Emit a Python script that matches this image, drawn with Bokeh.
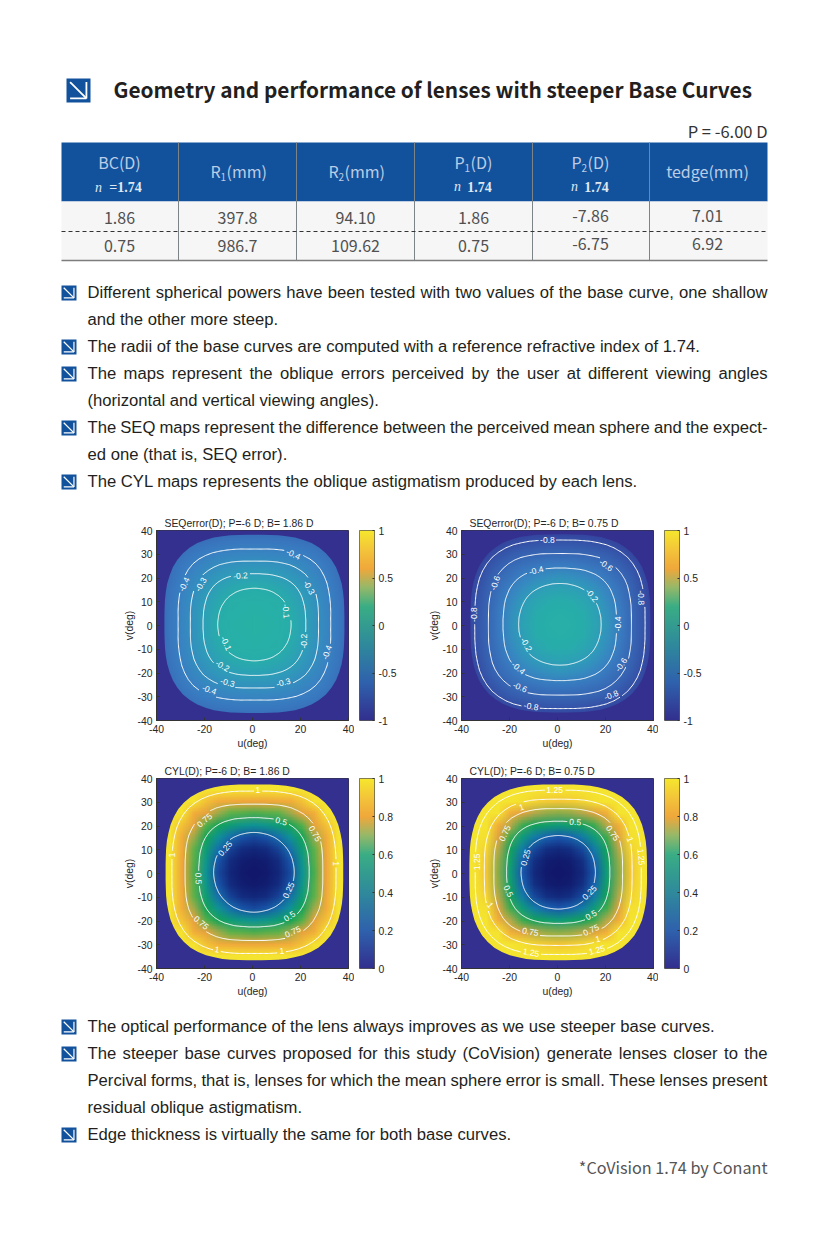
import base64
import struct
import zlib
import numpy as np
from bokeh.embed import file_html
from bokeh.resources import INLINE
from bokeh.plotting import figure
from bokeh.layouts import column, row
from bokeh.models import Range1d, FixedTicker, LinearColorMapper, CustomJSTickFormatter
from bokeh.core.properties import value

# ---------- table ----------
TITLE = "Geometry and performance of lenses with steeper Base Curves"
P_NOTE = "P = -6.00 D"
ROW_A = ["1.86", "397.8", "94.10", "1.86", "-7.86", "7.01"]
ROW_B = ["0.75", "986.7", "109.62", "0.75", "-6.75", "6.92"]
FOOT_NOTE = "*CoVision 1.74 by Conant"

# ---------- body text: (line, justified, bullet) ----------
TOP_LINES = [
    ("Different spherical powers have been tested with two values of the base curve, one shallow", True, True),
    ("and the other more steep.", False, False),
    ("The radii of the base curves are computed with a reference refractive index of 1.74.", False, True),
    ("The maps represent the oblique errors perceived by the user at different viewing angles", True, True),
    ("(horizontal and vertical viewing angles).", False, False),
    ("The SEQ maps represent the difference between the perceived mean sphere and the expect-", True, True),
    ("ed one (that is, SEQ error).", False, False),
    ("The CYL maps represents the oblique astigmatism produced by each lens.", False, True),
]
BOTTOM_LINES = [
    ("The optical performance of the lens always improves as we use steeper base curves.", False, True),
    ("The steeper base curves proposed for this study (CoVision) generate lenses closer to the", True, True),
    ("Percival forms, that is, lenses for which the mean sphere error is small. These lenses present", True, False),
    ("residual oblique astigmatism.", False, False),
    ("Edge thickness is virtually the same for both base curves.", False, True),
]

# ---------- maps: values on a 5 deg grid, first quadrant (rows v=0..40, cols u=0..40) ----------
SEQ_186 = [
    [-.03, -.04, -.06, -.10, -.18, -.27, -.365, -.47, -.60],
    [-.04, -.05, -.07, -.11, -.18, -.27, -.37, -.47, -.60],
    [-.06, -.07, -.08, -.135, -.205, -.285, -.375, -.48, -.60],
    [-.10, -.11, -.135, -.175, -.237, -.31, -.39, -.50, -.61],
    [-.18, -.18, -.205, -.237, -.29, -.347, -.42, -.52, -.64],
    [-.27, -.27, -.285, -.31, -.347, -.40, -.46, -.55, -.67],
    [-.365, -.37, -.375, -.39, -.42, -.46, -.52, -.60, -.72],
    [-.47, -.47, -.48, -.50, -.52, -.55, -.60, -.65, -.76],
    [-.60, -.60, -.60, -.61, -.64, -.67, -.72, -.76, -.80],
]
SEQ_075 = [
    [-.07, -.08, -.11, -.17, -.28, -.44, -.61, -.78, -.93],
    [-.08, -.09, -.12, -.19, -.30, -.45, -.61, -.78, -.93],
    [-.11, -.12, -.16, -.22, -.34, -.48, -.63, -.80, -.94],
    [-.17, -.19, -.22, -.30, -.39, -.52, -.66, -.82, -.95],
    [-.28, -.30, -.34, -.39, -.49, -.58, -.71, -.85, -.96],
    [-.44, -.45, -.48, -.52, -.58, -.67, -.79, -.90, -.98],
    [-.61, -.61, -.63, -.66, -.71, -.79, -.87, -.95, -1.0],
    [-.78, -.78, -.80, -.82, -.85, -.90, -.95, -1.0, -1.0],
    [-.93, -.93, -.94, -.95, -.96, -.98, -1.0, -1.0, -1.0],
]
CYL_186 = [
    [.00, .02, .09, .19, .38, .59, .81, 1.05, 1.30],
    [.02, .04, .11, .22, .40, .61, .82, 1.06, 1.30],
    [.09, .11, .17, .29, .44, .62, .84, 1.07, 1.32],
    [.19, .22, .29, .38, .50, .68, .87, 1.09, 1.34],
    [.38, .40, .44, .50, .61, .77, .94, 1.13, 1.38],
    [.59, .61, .62, .68, .77, .88, 1.04, 1.22, 1.48],
    [.81, .82, .84, .87, .94, 1.04, 1.20, 1.36, 1.60],
    [1.05, 1.06, 1.07, 1.09, 1.13, 1.22, 1.36, 1.50, 1.72],
    [1.30, 1.30, 1.32, 1.34, 1.38, 1.48, 1.60, 1.72, 1.90],
]
CYL_075 = [
    [.00, .02, .10, .23, .43, .66, .95, 1.28, 1.65],
    [.02, .04, .12, .26, .46, .67, .96, 1.29, 1.65],
    [.10, .12, .19, .32, .49, .70, .98, 1.29, 1.66],
    [.23, .26, .32, .43, .57, .76, 1.03, 1.31, 1.68],
    [.43, .46, .49, .57, .70, .89, 1.12, 1.40, 1.70],
    [.66, .67, .70, .76, .89, 1.06, 1.27, 1.55, 1.85],
    [.95, .96, .98, 1.03, 1.12, 1.27, 1.47, 1.72, 2.00],
    [1.28, 1.29, 1.29, 1.31, 1.40, 1.55, 1.72, 1.90, 2.15],
    [1.65, 1.65, 1.66, 1.68, 1.70, 1.85, 2.00, 2.15, 2.30],
]

# ---------- contours: radius (deg) at polar angles 0,5,...,45, mirrored into the other octants ----------
SEQ_186_LINES = [
    [15.3, 15.3, 15.3, 15.4, 15.5, 15.6, 15.7, 15.7, 15.8, 15.8],
    [21.4, 21.5, 21.6, 21.9, 22.2, 22.5, 22.9, 23.2, 23.4, 23.5],
    [26.7, 26.8, 27.1, 27.5, 28.0, 28.5, 29.1, 29.5, 29.8, 30.0],
    [31.8, 31.9, 32.3, 32.8, 33.4, 34.1, 34.9, 35.5, 36.0, 36.2],
]
SEQ_186_EDGE = [37.5, 37.65, 38.0, 38.6, 39.3, 40.1, 40.8, 41.5, 41.9, 42.1]
SEQ_075_LINES = [
    [17.2, 17.2, 17.3, 17.3, 17.4, 17.5, 17.6, 17.7, 17.8, 17.8],
    [23.7, 23.8, 23.9, 24.2, 24.6, 25.0, 25.3, 25.7, 25.9, 26.0],
    [29.8, 29.9, 30.2, 30.7, 31.2, 31.8, 32.5, 33.0, 33.3, 33.4],
    [35.5, 35.6, 36.0, 36.5, 37.2, 37.9, 38.7, 39.3, 39.7, 39.9],
]
SEQ_075_EDGE = [37.5, 37.65, 38.0, 38.6, 39.3, 40.1, 40.8, 41.5, 41.9, 42.1]
CYL_186_LINES = [
    [16.8, 16.8, 16.8, 16.8, 16.9, 16.9, 17.0, 17.0, 17.0, 17.0],
    [23.0, 23.1, 23.2, 23.5, 23.9, 24.2, 24.6, 24.9, 25.1, 25.2],
    [28.7, 28.8, 29.1, 29.5, 30.1, 30.7, 31.3, 31.7, 32.1, 32.2],
    [34.2, 34.3, 34.7, 35.2, 35.8, 36.5, 37.2, 37.8, 38.2, 38.4],
]
CYL_186_EDGE = [37.0, 37.15, 37.5, 38.1, 38.8, 39.5, 40.3, 40.9, 41.4, 41.5]
CYL_075_LINES = [
    [15.5, 15.5, 15.5, 15.6, 15.7, 15.8, 15.9, 15.9, 16.0, 16.0],
    [21.5, 21.6, 21.7, 22.0, 22.3, 22.6, 23.0, 23.3, 23.5, 23.6],
    [26.8, 26.9, 27.2, 27.6, 28.1, 28.6, 29.2, 29.6, 30.0, 30.1],
    [30.8, 30.9, 31.2, 31.7, 32.3, 32.9, 33.5, 34.1, 34.4, 34.6],
    [34.6, 34.7, 35.1, 35.6, 36.3, 37.0, 37.7, 38.3, 38.7, 38.8],
]
CYL_075_EDGE = [37.0, 37.15, 37.5, 38.1, 38.8, 39.5, 40.3, 40.9, 41.4, 41.5]

# ---------- contour labels: (text, u, v, rotation deg) ----------
SEQ_186_LABELS = [("-0.4", 17, 30, -25), ("-0.4", -28.5, 17.3, 65), ("-0.3", -21.5, 17.3, 60), ("-0.2", -5, 21, 5),
                  ("-0.3", 23.6, 16, -60), ("-0.1", 14, 6, -85), ("-0.2", 21.5, -6.6, 90), ("-0.4", 31, -11.3, 70),
                  ("-0.1", -11, -7.5, -65), ("-0.2", -12.5, -17, -30), ("-0.3", -10.4, -24, -15),
                  ("-0.3", 12.8, -24, 15), ("-0.4", -18, -27, -20)]
SEQ_075_LABELS = [("-0.8", -4.2, 36.2, 0), ("-0.6", 20.3, 25.4, -35), ("-0.4", -8.9, 23.2, 15), ("-0.2", 14.3, 12.7, -50),
                  ("-0.6", -26, 17.9, 70), ("-0.8", 34.9, 11.7, -88), ("-0.8", -34.6, 4.6, 90), ("-0.4", 25.4, 0.7, 90),
                  ("-0.2", -13, -8, -60), ("-0.6", 26.5, -16.5, 55), ("-0.4", -16.3, -17.9, -40),
                  ("-0.6", -15.6, -26, -22), ("-0.8", 22.4, -29.3, 22), ("-0.8", -11, -34, -10)]
CYL_186_LABELS = [("1", 2.2, 35, 0), ("0.75", -20, 22.4, 40), ("0.5", 12, 22, -15), ("0.75", 26, 16.8, -60),
                  ("0.25", -11.4, 10.5, 50), ("1", -33.7, 7.7, 90), ("1", 34.9, 4.2, -90), ("0.5", -22.5, -2.1, -88),
                  ("0.25", 15, -7, 65), ("0.5", 15.4, -18, 35), ("0.75", 16.8, -24.5, 25), ("0.75", -21.4, -20.7, -40),
                  ("1", -14.7, -32, -10), ("1", 12.2, -32.6, 5)]
CYL_075_LABELS = [("1.25", -1.2, 35, 0), ("1", -15, 28, 20), ("0.75", -22, 17, 65), ("0.5", 7.4, 21.7, -5),
                  ("0.75", 23, 17, -55), ("1", 30.3, 14.3, -70), ("1.25", 34.9, 7, -85), ("1.25", -33.5, 4.9, 90),
                  ("0.25", -13.3, 6.7, 75), ("0.5", -20.4, -7.4, -65), ("1", -28, -13.3, -50), ("0.25", 13.3, -8, 45),
                  ("0.5", 14, -17.5, 30), ("0.75", -11.3, -24.5, -10), ("0.75", 14, -23.8, 25), ("1", 16.8, -27.6, 15),
                  ("1.25", -11, -33.3, -10), ("1.25", 16.4, -32.2, 15)]

# ---------- colours ----------
BAR_STOPS = [(0, "#332f8f"), (.2, "#2f62ad"), (.4, "#2f8a9c"), (.6, "#3aae85"), (.7, "#95b96a"),
             (.8, "#f0a83c"), (.9, "#f4c53a"), (1, "#f6e72e")]
CYL_STOPS = [(0, "#11176a"), (.1, "#13297c"), (.25, "#1a5fb4"), (.36, "#0f8fa0"), (.42, "#0f9a80"), (.5, "#14a356"),
             (.62, "#5cb14a"), (.7, "#b4a84a"), (.78, "#eea23c"), (.9, "#f2b03a"), (1.0, "#f4dc32"), (1.05, "#f5e42f")]
SEQ_STOPS = [(-1, "#34308f"), (-.8, "#3552a8"), (-.6, "#3869b6"), (-.4, "#3a81c4"), (-.2, "#2e9fb8"),
             (-.1, "#28aeaa"), (0, "#27b5a4")]
BG = "#34308f"
BLUE = "#12529c"
INK = "#231f20"
SANS = "Liberation Sans"
CJK = "Noto Sans CJK SC"
SERIF = "Liberation Serif"

HELV = dict(zip("abcdefghijklmnopqrstuvwxyz",
                [556, 556, 500, 556, 556, 278, 556, 556, 222, 222, 500, 222, 833, 556, 556, 556, 556, 333, 500, 278,
                 556, 500, 722, 500, 500, 500]))
HELV.update(dict(zip("ABCDEFGHIJKLMNOPQRSTUVWXYZ",
                     [667, 667, 722, 722, 667, 611, 778, 722, 278, 500, 667, 556, 833, 722, 778, 667, 778, 722, 667,
                      611, 722, 667, 944, 667, 667, 611])))
HELV.update({c: 556 for c in "0123456789"})
HELV.update({".": 278, ",": 278, "(": 333, ")": 333, "-": 333, " ": 278})

PLAIN_TICK = "return String(tick)"


def stops_rgb(stops, t):
    xs = [s[0] for s in stops]
    rgb = np.array([[int(s[1][i:i + 2], 16) for i in (1, 3, 5)] for s in stops], float)
    return np.stack([np.interp(t, xs, rgb[:, k]) for k in range(3)], axis=-1)


def palette(stops):
    return ["#%02x%02x%02x" % tuple(int(c) for c in px) for px in stops_rgb(stops, np.linspace(0, 1, 256))]


def png_uri(rgb):
    h, w, _ = rgb.shape
    raw = b"".join(b"\x00" + rgb[i].astype(np.uint8).tobytes() for i in range(h))

    def chunk(tag, data):
        return struct.pack(">I", len(data)) + tag + data + struct.pack(">I", zlib.crc32(tag + data) & 0xffffffff)

    blob = (b"\x89PNG\r\n\x1a\n" + chunk(b"IHDR", struct.pack(">IIBBBBB", w, h, 8, 2, 0, 0, 0))
            + chunk(b"IDAT", zlib.compress(raw)) + chunk(b"IEND", b""))
    return "data:image/png;base64," + base64.b64encode(blob).decode()


def width_px(s, size):
    return sum(HELV.get(c, 556) for c in s) * size / 1000.0


def page_figure(top, bottom):
    f = figure(width=827, height=bottom - top, x_range=Range1d(0, 827), y_range=Range1d(bottom, top),
               output_backend="svg", toolbar_location=None, x_axis_type=None, y_axis_type=None,
               min_border=0, outline_line_color=None)
    f.grid.visible = False
    return f


def icon(f, x, y, s, lw):
    f.quad(left=[x], right=[x + s], top=[y], bottom=[y + s], fill_color=BLUE, line_color=None)
    m, n = x + s * .15, x + s * .83
    t, b = y + s * .15, y + s * .83
    f.segment(x0=[m, n, m], y0=[t, t, b], x1=[n, n, n], y1=[b, b, b], line_color="white", line_width=lw)


def put(f, x, y, s, font, size, color, align="center", style="normal"):
    if font == CJK:
        y -= 2
    f.text(x=[x], y=[y], text=[s], text_font=value(font), text_font_size=size, text_color=color,
           text_align=align, text_baseline="middle", text_font_style=style)


def body(f, lines, y0, step):
    size = 16.65
    left, right = 87, 767
    for i, (line, just, bullet) in enumerate(lines):
        y = y0 + i * step
        if bullet:
            icon(f, 61, y - 7, 15, 1.2)
        if just:
            words = line.split(" ")
            w = [width_px(s, size) for s in words]
            gap = (right - left - sum(w)) / (len(words) - 1)
            x = left
            for s, ww in zip(words, w):
                put(f, x, y, s, SANS, "16.65px", INK, "left")
                x += ww + gap
        else:
            put(f, left, y, line, SANS, "16.65px", INK, "left")


def closed_ring(half, cx, cy):
    q = list(half) + list(half[-2::-1])
    c = q + q[-2::-1]
    full = c + c[-2:0:-1]
    full = full + [full[0]]
    th = np.deg2rad(np.arange(len(full)) * 5.0)
    r = np.array(full)
    return cx + r * np.cos(th), cy + r * np.sin(th)


def cut_at_labels(x, y, labels):
    xs, ys = [], []
    for i in range(len(x) - 1):
        for k in range(6):
            a, b = k / 6.0, (k + 1) / 6.0
            x0, y0 = x[i] + (x[i + 1] - x[i]) * a, y[i] + (y[i + 1] - y[i]) * a
            x1, y1 = x[i] + (x[i + 1] - x[i]) * b, y[i] + (y[i + 1] - y[i]) * b
            mx, my = (x0 + x1) / 2, (y0 + y1) / 2
            hidden = False
            for s, u, v, rot in labels:
                c, sn = np.cos(np.deg2rad(rot)), np.sin(np.deg2rad(rot))
                du, dv = mx - u, my - v
                along, across = du * c + dv * sn, -du * sn + dv * c
                hw = (width_px(s, 8.5) / 2 + 2) / 2.4
                if abs(along) < hw and abs(across) < 2.2:
                    hidden = True
            if hidden:
                xs.append(float("nan")); ys.append(float("nan"))
            else:
                if not xs or xs[-1] != xs[-1]:
                    xs.append(x0); ys.append(y0)
                xs.append(x1); ys.append(y1)
    return xs, ys


def style_axis(ax, label=None):
    ax.major_tick_in, ax.major_tick_out = 3, 0
    ax.minor_tick_line_color = None
    ax.axis_line_color = "#333333"
    ax.major_tick_line_color = "#333333"
    ax.major_label_text_font = SANS
    ax.major_label_text_font_size = "10.4px"
    ax.major_label_text_color = "#262626"
    ax.major_label_standoff = 4
    ax.formatter = CustomJSTickFormatter(code=PLAIN_TICK)
    if label:
        ax.axis_label = label
        ax.axis_label_text_font = SANS
        ax.axis_label_text_font_size = "10.4px"
        ax.axis_label_text_font_style = "normal"
        ax.axis_label_text_color = "#262626"
        ax.axis_label_standoff = 2


def map_panel(title, quad, stops, lines, edge, labels, centre, edge_centre, left, right, top, bottom):
    f = figure(width=left + 192 + right, height=top + 190 + bottom, x_range=Range1d(-40, 40), y_range=Range1d(-40, 40),
               output_backend="svg", toolbar_location=None, min_border_left=left, min_border_right=right,
               min_border_top=top, min_border_bottom=bottom, outline_line_color="#333333", title=title)
    f.title.text_font = SANS
    f.title.text_font_size = "10.4px"
    f.title.text_font_style = "normal"
    f.title.text_color = "#262626"
    f.title.offset = 8
    f.title.standoff = 4
    f.grid.visible = False
    style_axis(f.xaxis[0], "u(deg)")
    style_axis(f.yaxis[0], "v(deg)")
    f.xaxis[0].major_label_standoff = 4
    f.yaxis[0].axis_label_standoff = -1
    f.xaxis[0].ticker = FixedTicker(ticks=[-40, -20, 0, 20, 40])
    f.yaxis[0].ticker = FixedTicker(ticks=list(range(-40, 41, 10)))
    idx = np.abs(np.arange(-8, 9))
    field = np.array(quad, float)[np.ix_(idx, idx)]
    f.image_url(url=[png_uri(stops_rgb(stops, field))], x=[-42.5 + centre[0]], y=[-42.5 + centre[1]], w=[85], h=[85],
                anchor="bottom_left")
    ex, ey = closed_ring(edge, *edge_centre)
    f.multi_polygons(xs=[[[[-44, 44, 44, -44], list(ex)]]], ys=[[[[-44, -44, 44, 44], list(ey)]]],
                     fill_color=BG, line_color=None)
    for half in lines:
        x, y = closed_ring(half, *centre)
        xs, ys = cut_at_labels(x, y, labels)
        f.line(xs, ys, line_color="white", line_width=1)
    f.text(x=[l[1] for l in labels], y=[l[2] for l in labels], text=[l[0] for l in labels],
           angle=[l[3] for l in labels], angle_units="deg", text_font=value(SANS), text_font_size="8.5px",
           text_color="white", text_align="center", text_baseline="middle")
    return f


def bar_panel(stops, lo, hi, ticks, left, top, bottom):
    f = figure(width=left + 15 + 30, height=top + 190 + bottom, x_range=Range1d(0, 1), y_range=Range1d(lo, hi),
               output_backend="svg", toolbar_location=None, x_axis_type=None, y_axis_location="right",
               min_border_left=left, min_border_right=30, min_border_top=top, min_border_bottom=bottom,
               outline_line_color="#5c5c50")
    f.grid.visible = False
    style_axis(f.yaxis[0])
    f.yaxis[0].axis_line_color = None
    f.yaxis[0].ticker = FixedTicker(ticks=ticks)
    f.yaxis[0].major_tick_in, f.yaxis[0].major_tick_out = 2, 0
    grad = np.linspace(lo, hi, 256).reshape(256, 1)
    mapper = LinearColorMapper(palette=palette(stops), low=lo, high=hi)
    f.image(image=[grad], x=0, y=lo, dw=1, dh=hi - lo, color_mapper=mapper)
    return f


# ---------- page header ----------
head = page_figure(0, 505)
icon(head, 66, 78, 24, 1.8)
put(head, 113, 90, TITLE, CJK, "20.8px", INK, "left", "bold")
put(head, 767, 132, P_NOTE, CJK, "16.5px", "#333333", "right")
head.quad(left=[61], right=[767], top=[142], bottom=[201], fill_color=BLUE, line_color=None)
head.quad(left=[61], right=[767], top=[201], bottom=[260], fill_color="#f6f6f6", line_color=None)
head.segment(x0=[178, 296, 414, 532, 649], y0=[142] * 5, x1=[178, 296, 414, 532, 649], y1=[260] * 5,
             line_color="#7d8488", line_width=1)
head.segment(x0=[61], y0=[260], x1=[767], y1=[260], line_color="#7d7d7d", line_width=1.5)
head.segment(x0=[61], y0=[231], x1=[767], y1=[231], line_color="#333333", line_width=1, line_dash="4 3")
HC = "#bccde6"
NC = "#dfe7f2"
COLS = [119, 237, 355, 473, 590, 707]
put(head, COLS[0], 163, "BC(D)", CJK, "16px", HC)
put(head, COLS[0] - 21, 187, "n", SERIF, "14px", NC, "center", "italic")
put(head, COLS[0] + 6, 187, "=1.74", SERIF, "14px", NC, "center", "bold")
for cx_, sub in ((COLS[1], "1"), (COLS[2], "2")):
    put(head, cx_ - 27, 172, "R", CJK, "16px", HC, "left")
    put(head, cx_ - 17, 178, sub, CJK, "10px", HC, "left")
    put(head, cx_ - 11, 172, "(mm)", CJK, "16px", HC, "left")
for cx_, sub in ((COLS[3], "1"), (COLS[4], "2")):
    put(head, cx_ - 19, 163, "P", CJK, "16px", HC, "left")
    put(head, cx_ - 9, 169, sub, CJK, "10px", HC, "left")
    put(head, cx_ - 3, 163, "(D)", CJK, "16px", HC, "left")
    put(head, cx_ - 16, 186, "n", SERIF, "14px", NC, "center", "italic")
    put(head, cx_ + 6, 186, "1.74", SERIF, "14px", NC, "center", "bold")
put(head, COLS[5], 172, "tedge(mm)", CJK, "16px", HC)
for i, c in enumerate(COLS):
    dy = -2 if i >= 4 else 0
    put(head, c, 219 + dy, ROW_A[i], CJK, "16px", "#505050")
    put(head, c, 247 + dy, ROW_B[i], CJK, "16px", "#505050")
body(head, TOP_LINES, 292, 27)

# ---------- maps ----------
m1 = map_panel("SEQerror(D); P=-6 D; B= 1.86 D", SEQ_186, SEQ_STOPS, SEQ_186_LINES, SEQ_186_EDGE, SEQ_186_LABELS,
               (0.8, 0.4), (0.8, 0.7), 156, 6, 25, 36)
b1 = bar_panel(BAR_STOPS, -1, 1, [-1, -.5, 0, .5, 1], 5, 25, 36)
m2 = map_panel("SEQerror(D); P=-6 D; B= 0.75 D", SEQ_075, SEQ_STOPS, SEQ_075_LINES, SEQ_075_EDGE, SEQ_075_LABELS,
               (1.0, 0.5), (1.2, 0.9), 57, 5, 25, 36)
b2 = bar_panel(BAR_STOPS, -1, 1, [-1, -.5, 0, .5, 1], 6, 25, 36)
m3 = map_panel("CYL(D); P=-6 D; B= 1.86 D", CYL_186, CYL_STOPS, CYL_186_LINES, CYL_186_EDGE, CYL_186_LABELS,
               (0.6, 0.5), (0.8, 0.5), 156, 6, 22, 36)
b3 = bar_panel(BAR_STOPS, 0, 1, [0, .2, .4, .6, .8, 1], 5, 22, 36)
m4 = map_panel("CYL(D); P=-6 D; B= 0.75 D", CYL_075, CYL_STOPS, CYL_075_LINES, CYL_075_EDGE, CYL_075_LABELS,
               (0.3, 0.5), (0.3, 0.5), 57, 5, 22, 36)
b4 = bar_panel(BAR_STOPS, 0, 1, [0, .2, .4, .6, .8, 1], 6, 22, 36)

# ---------- page footer ----------
foot = page_figure(1004, 1230)
body(foot, BOTTOM_LINES, 1026, 27)
put(foot, 767, 1168, FOOT_NOTE, CJK, "16.2px", "#555555", "right")

page = column(head, row(m1, b1, m2, b2, spacing=0), row(m3, b3, m4, b4, spacing=0), foot, spacing=0)
open("out.html", "w").write(file_html(page, INLINE))
